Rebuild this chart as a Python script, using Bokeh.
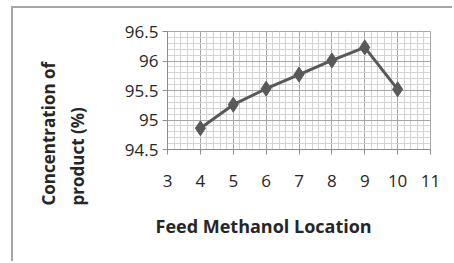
from bokeh.plotting import figure
from bokeh.models import FixedTicker, Title
from bokeh.embed import file_html
from bokeh.resources import INLINE

# Data
feed_location = [4, 5, 6, 7, 8, 9, 10]
concentration = [94.86, 95.26, 95.53, 95.77, 96.01, 96.23, 95.52]
x_ticks = [3, 4, 5, 6, 7, 8, 9, 10, 11]
y_ticks = [94.5, 95.0, 95.5, 96.0, 96.5]
y_tick_labels = {94.5: "94.5", 95.0: "95", 95.5: "95.5", 96.0: "96", 96.5: "96.5"}
x_title = "Feed Methanol Location"
y_title_1 = "Concentration of"
y_title_2 = "product (%)"

FONT = "Open Sans"
TEXT = "#262626"
MAJOR = "#a6a6a6"
MINOR = "#d4d4d4"

p = figure(width=441, height=255, x_range=(3, 11), y_range=(94.5, 96.5),
           output_backend="svg", toolbar_location=None,
           min_border_left=154, min_border_right=24,
           min_border_top=23, min_border_bottom=114)
p.title.visible = False
p.styles = {"margin-left": "11px", "margin-top": "6px",
            "border-left": "2px solid #a6a6a6", "border-top": "2px solid #a6a6a6"}
p.outline_line_color = MAJOR

x_minor = [3 + i * 0.2 for i in range(41)]
y_minor = [94.5 + i * 0.1 for i in range(21)]

p.xaxis.ticker = FixedTicker(ticks=x_ticks, minor_ticks=x_minor)
p.yaxis.ticker = FixedTicker(ticks=y_ticks, minor_ticks=y_minor)
p.yaxis.major_label_overrides = y_tick_labels

for ax in (p.xaxis[0], p.yaxis[0]):
    ax.axis_line_color = "#8c8c8c"
    ax.major_tick_line_color = "#8c8c8c"
    ax.major_tick_out = 5
    ax.major_tick_in = 0
    ax.minor_tick_line_color = None
    ax.major_label_text_font = FONT
    ax.major_label_text_font_size = "17px"
    ax.major_label_text_color = TEXT
p.xaxis.major_label_standoff = 20
p.yaxis.major_label_standoff = 4

for g in (p.xgrid[0], p.ygrid[0]):
    g.grid_line_color = MAJOR
    g.grid_line_width = 1
    g.minor_grid_line_color = MINOR
    g.minor_grid_line_width = 1
p.xgrid.ticker = FixedTicker(ticks=x_ticks, minor_ticks=x_minor)
p.ygrid.ticker = FixedTicker(ticks=y_ticks, minor_ticks=y_minor)

p.line(feed_location, concentration, line_color="#595959", line_width=3)
p.scatter(feed_location, concentration, marker="diamond", size=15,
          fill_color="#595959", line_color="#595959")

common = dict(text_font=FONT, text_font_style="bold",
              text_color=TEXT, align="left", vertical_align="middle")
# spacer between y tick labels and the y title lines
p.add_layout(Title(text=" ", text_font_size="16px", standoff=11), "left")
p.add_layout(Title(text=y_title_2, offset=-56, standoff=4,
                   text_font_size="17px", **common), "left")
p.add_layout(Title(text=y_title_1, offset=-56, standoff=4,
                   text_font_size="17px", **common), "left")
p.add_layout(Title(text=x_title, offset=-12, standoff=46,
                   text_font_size="18px", **common), "below")

open("out.html", "w").write(file_html(p, INLINE))
